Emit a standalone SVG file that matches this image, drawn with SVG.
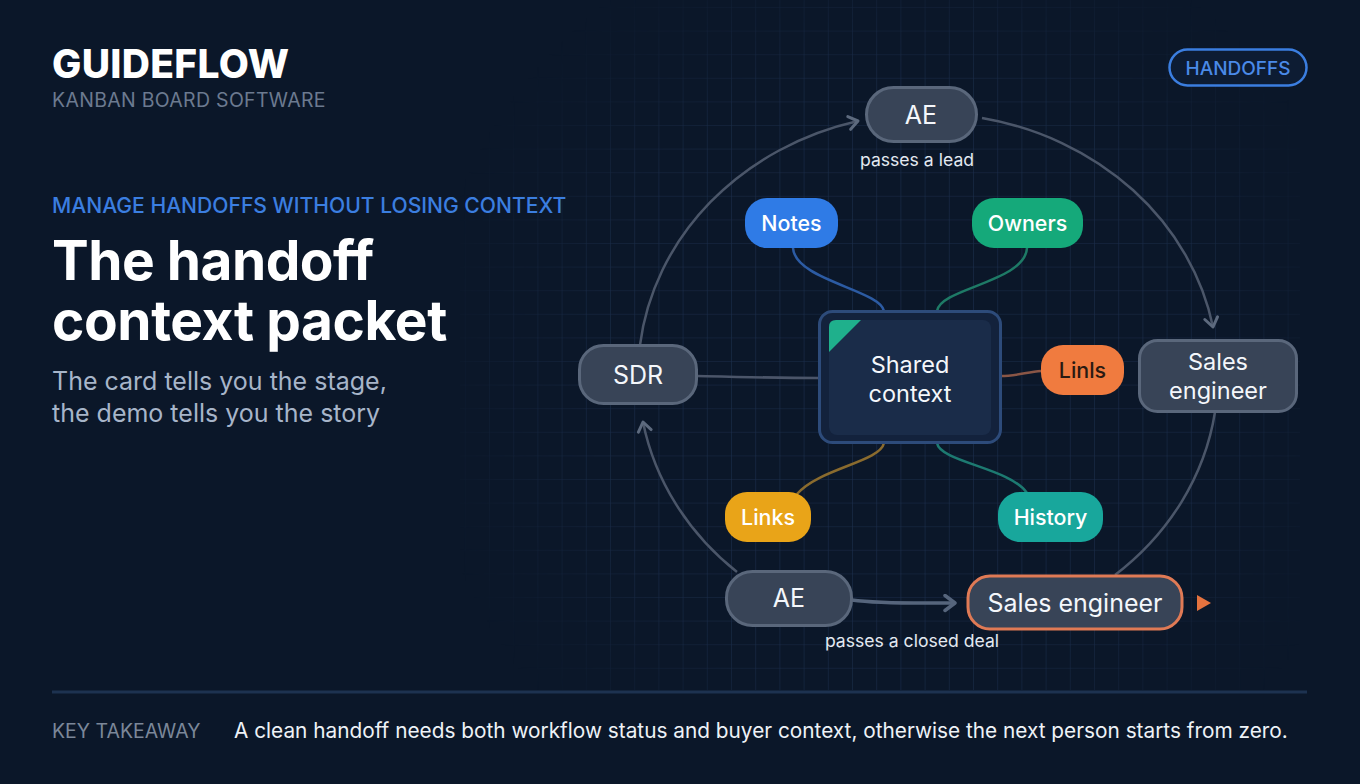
<svg xmlns="http://www.w3.org/2000/svg" width="1360" height="784" viewBox="0 0 1360 784">
  <defs>
    <pattern id="grid" x="5" y="7" width="24.2" height="23.6" patternUnits="userSpaceOnUse">
      <path d="M24.2,0 L0,0 L0,23.6" fill="none" stroke="#1d304e" stroke-width="1.2"/>
    </pattern>
    <radialGradient id="fade" cx="900" cy="380" r="480" gradientUnits="userSpaceOnUse">
      <stop offset="0" stop-color="#fff" stop-opacity="1"/>
      <stop offset="0.65" stop-color="#fff" stop-opacity="0.85"/>
      <stop offset="1" stop-color="#fff" stop-opacity="0"/>
    </radialGradient>
    <mask id="gridMask">
      <rect width="1360" height="784" fill="url(#fade)"/>
    </mask>
    <marker id="arrow" markerUnits="userSpaceOnUse" markerWidth="18" markerHeight="18" refX="12" refY="8" orient="auto">
      <path d="M3,1.5 L12,8 L3,14.5" fill="none" stroke="#5d6a7e" stroke-width="3" stroke-linecap="round" stroke-linejoin="round"/>
    </marker>
    <marker id="arrowB" markerUnits="userSpaceOnUse" markerWidth="20" markerHeight="20" refX="13" refY="9" orient="auto">
      <path d="M3,1.5 L13,9 L3,16.5" fill="none" stroke="#56657c" stroke-width="3.5" stroke-linecap="round" stroke-linejoin="round"/>
    </marker>
    <style>
      .t { font-family: Inter, "Liberation Sans", sans-serif; }
      .node rect { fill: #384457; stroke: #5a677b; stroke-width: 3; }
      .nlabel { font-family: Inter, "Liberation Sans", sans-serif; font-size: 25px; fill: #f4f7fb; text-anchor: middle; }
      .nlabel2 { font-family: Inter, "Liberation Sans", sans-serif; font-size: 23.5px; fill: #f4f7fb; text-anchor: middle; }
      .chip { font-family: Inter, "Liberation Sans", sans-serif; font-size: 21.4px; fill: #ffffff; text-anchor: middle; font-weight: 500; }
      .cap { font-family: Inter, "Liberation Sans", sans-serif; font-size: 17.6px; fill: #e3e9f1; text-anchor: middle; }
      .arc { fill: none; stroke: #4b5669; stroke-width: 2.5; }
      .spoke { fill: none; stroke-width: 2.5; }
    </style>
  </defs>

  <rect width="1360" height="784" fill="#0b1729"/>
  <rect x="460" y="0" width="840" height="690" fill="url(#grid)" mask="url(#gridMask)"/>

  <g id="header">
    <text class="t" x="52" y="78" font-size="39" font-weight="800" fill="#ffffff" letter-spacing="0.3">GUIDEFLOW</text>
    <text class="t" x="52" y="107" font-size="19.5" fill="#6c7a90" letter-spacing="0.3">KANBAN BOARD SOFTWARE</text>
    <text class="t" x="52" y="213" font-size="21.1" font-weight="500" fill="#3b7ee0">MANAGE HANDOFFS WITHOUT LOSING CONTEXT</text>
    <text class="t" x="52" y="280" font-size="55" font-weight="700" fill="#ffffff" letter-spacing="-0.5">The handoff</text>
    <text class="t" x="52" y="340" font-size="55" font-weight="700" fill="#ffffff" letter-spacing="-0.4">context packet</text>
    <text class="t" x="52" y="390" font-size="25" fill="#a7b5c9">The card tells you the stage,</text>
    <text class="t" x="52" y="422" font-size="25" fill="#a7b5c9">the demo tells you the story</text>
  </g>

  <g id="badge">
    <rect x="1169.5" y="49.5" width="137" height="36" rx="18" fill="#0d1c33" stroke="#3b7ee0" stroke-width="2.5"/>
    <text class="t" x="1238" y="75" font-size="19" font-weight="500" fill="#4a8ae8" text-anchor="middle">HANDOFFS</text>
  </g>

  <g id="connectors">
    <path class="arc" d="M640,345 A290,262 0 0 1 858,121" marker-end="url(#arrow)"/>
    <path class="arc" d="M982,118 A290,262 0 0 1 1213,327" marker-end="url(#arrow)"/>
    <path class="arc" d="M1215,412 A290,262 0 0 1 1115,575"/>
    <path class="arc" d="M737,572 A290,262 0 0 1 643,422" marker-end="url(#arrow)"/>
    <path d="M852,600 C880,604 915,603 955,603" fill="none" stroke="#56657c" stroke-width="3.5" marker-end="url(#arrowB)"/>
    <path class="spoke" d="M793,248 C795,280 880,290 884,311" stroke="#2c5ba3"/>
    <path class="spoke" d="M1027,248 C1025,282 940,288 937,311" stroke="#1e7a66"/>
    <path class="spoke" d="M697,376 C740,377 780,378 819,378" stroke="#4b5569"/>
    <path class="spoke" d="M1001,376 C1015,376 1028,372 1041,371" stroke="#8a5646"/>
    <path class="spoke" d="M797,494 C820,468 880,462 884,443" stroke="#8a6b2e"/>
    <path class="spoke" d="M1027,493 C1010,468 940,462 937,443" stroke="#1d7a71"/>
  </g>

  <g id="node-ae-top" class="node">
    <rect x="866.5" y="87.5" width="110" height="54" rx="27"/>
    <text class="nlabel" x="921" y="124">AE</text>
  </g>
  <g id="label-lead">
    <text class="cap" x="917" y="166">passes a lead</text>
  </g>

  <g id="node-notes">
    <rect x="745" y="198" width="93" height="50" rx="22" fill="#2f7be6"/>
    <text class="chip" x="791.5" y="231">Notes</text>
  </g>
  <g id="node-owners">
    <rect x="972" y="198" width="111" height="50" rx="22" fill="#15a97a"/>
    <text class="chip" x="1027.5" y="231">Owners</text>
  </g>

  <g id="node-shared">
    <rect x="819.5" y="311.5" width="181" height="131" rx="13" fill="#13223c" stroke="#2d4b7a" stroke-width="3"/>
    <rect x="829" y="320" width="162" height="115" rx="8" fill="#1a2c49"/>
    <path d="M836,320 L861,320 L829,352 L829,327 Q829,320 836,320 Z" fill="#1fb08c"/>
    <text class="nlabel2" x="910" y="373">Shared</text>
    <text class="nlabel2" x="910" y="401.5">context</text>
  </g>

  <g id="node-sdr" class="node">
    <rect x="579.5" y="345.5" width="117" height="58" rx="24"/>
    <text class="nlabel" x="638" y="384">SDR</text>
  </g>

  <g id="node-linls">
    <rect x="1041" y="345" width="83" height="50" rx="22" fill="#f07b3f"/>
    <text class="chip" x="1082.5" y="378" style="fill:#2a1a12">Linls</text>
  </g>

  <g id="node-se-right" class="node">
    <rect x="1139.5" y="340.5" width="157" height="71" rx="18"/>
    <text class="nlabel2" x="1218" y="370">Sales</text>
    <text class="nlabel2" x="1218" y="398.5">engineer</text>
  </g>

  <g id="node-links">
    <rect x="725" y="492" width="86" height="50" rx="22" fill="#e9a418"/>
    <text class="chip" x="768" y="525">Links</text>
  </g>
  <g id="node-history">
    <rect x="998" y="492" width="105" height="50" rx="22" fill="#18a79c"/>
    <text class="chip" x="1050.5" y="525">History</text>
  </g>

  <g id="node-ae-bottom" class="node">
    <rect x="726.5" y="571.5" width="125" height="54" rx="26"/>
    <text class="nlabel" x="789" y="607">AE</text>
  </g>

  <g id="node-se-bottom">
    <rect x="968" y="576" width="214" height="53" rx="22" fill="#384457" stroke="#e07a55" stroke-width="3"/>
    <text class="nlabel" x="1075" y="612">Sales engineer</text>
    <path d="M1197,595 L1211,603 L1197,611 Z" fill="#e5733f"/>
  </g>
  <g id="label-deal">
    <text class="cap" x="912" y="647">passes a closed deal</text>
  </g>

  <g id="footer">
    <line x1="52" y1="692" x2="1307" y2="692" stroke="#1d3250" stroke-width="3"/>
    <text class="t" x="52" y="738" font-size="19.5" fill="#7b8799">KEY TAKEAWAY</text>
    <text class="t" x="234" y="738" font-size="20.8" fill="#eef2f7">A clean handoff needs both workflow status and buyer context, otherwise the next person starts from zero.</text>
  </g>
</svg>
